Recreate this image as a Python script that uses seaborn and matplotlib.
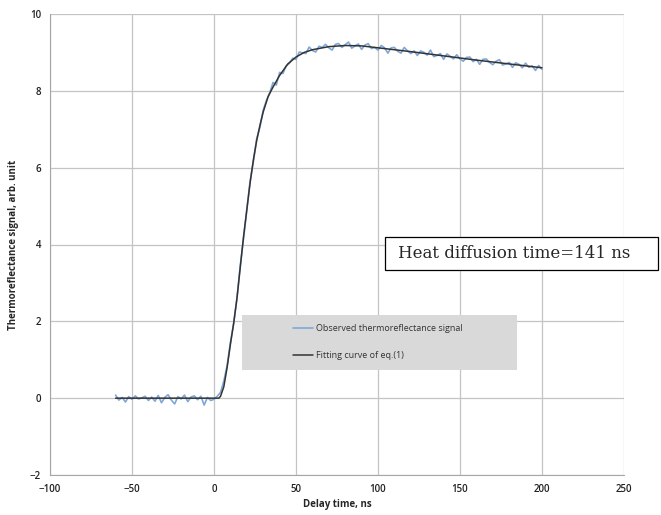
import numpy as np
import pandas as pd
import seaborn as sns
import matplotlib.pyplot as plt
from matplotlib.patches import Rectangle

# observed signal, sampled every 2 ns from -60 to 200 ns
obs_time = np.arange(-60, 202, 2)
obs_signal = [
    # -60 .. -2 ns
    0.08, -0.05, 0.02, -0.10, 0.04, -0.03, 0.06, -0.02, 0.01, 0.05,
    -0.06, 0.03, -0.08, 0.07, -0.12, 0.02, 0.09, -0.05, -0.15, 0.04,
    -0.02, 0.08, -0.09, 0.03, 0.06, -0.04, 0.05, -0.18, 0.02, -0.06,
    # 0 .. 46 ns
    -0.03, 0.05, 0.15, 0.45, 0.85, 1.45, 1.95, 2.60, 3.45, 4.15,
    4.90, 5.65, 6.15, 6.75, 7.05, 7.50, 7.75, 7.95, 8.22, 8.15,
    8.48, 8.45, 8.65, 8.72,
    # 48 .. 200 ns
    8.85, 8.82, 9.01, 8.99, 8.97, 9.14, 9.05, 9.01, 9.16, 9.13,
    9.21, 9.12, 9.06, 9.21, 9.23, 9.13, 9.20, 9.27, 9.11, 9.17,
    9.22, 9.08, 9.19, 9.23, 9.10, 9.13, 9.06, 9.18, 9.12, 8.98,
    9.12, 9.13, 9.03, 8.98, 9.13, 9.04, 8.97, 9.04, 8.92, 9.04,
    9.00, 8.93, 9.06, 8.89, 8.92, 8.97, 8.82, 8.96, 8.90, 8.83,
    8.94, 8.83, 8.77, 8.87, 8.88, 8.76, 8.82, 8.69, 8.82, 8.83,
    8.74, 8.68, 8.77, 8.81, 8.67, 8.70, 8.74, 8.61, 8.73, 8.69,
    8.60, 8.72, 8.61, 8.65, 8.53, 8.66, 8.56,
]

# fitted curve of eq.(1)
fit_time = [-60, 0, 3, 4, 6, 8, 10, 12, 14, 16, 18, 20, 22, 24, 26, 28, 30,
            33, 36, 40, 45, 50, 55, 60, 70, 80, 90, 100, 120, 140, 160, 180, 200]
fit_signal = [0, 0, 0, 0.05, 0.3, 0.8, 1.4, 1.95, 2.6, 3.4, 4.2, 4.9, 5.6, 6.2,
              6.7, 7.1, 7.45, 7.85, 8.1, 8.4, 8.7, 8.88, 9.0, 9.07, 9.15, 9.18,
              9.17, 9.12, 9.02, 8.91, 8.80, 8.70, 8.60]

obs = pd.DataFrame({'t': obs_time, 's': obs_signal})
fit = pd.DataFrame({'t': fit_time, 's': fit_signal})

sns.set_style('white')
plt.rcParams['font.family'] = ['Open Sans', 'DejaVu Sans']

fig = plt.figure(figsize=(6.61, 5.15), dpi=100)
ax = fig.add_axes([50/661, 40/515, 574/661, 461/515])

sns.lineplot(data=obs, x='t', y='s', ax=ax, color='#7fa8d8', lw=1.2,
             label='Observed thermoreflectance signal', zorder=3)
sns.lineplot(data=fit, x='t', y='s', ax=ax, color='#333333', lw=1.1,
             label='Fitting curve of eq.(1)', zorder=4)

ax.set_xlim(-100, 250)
ax.set_ylim(-2, 10)
ax.set_xticks(range(-100, 251, 50))
ax.set_yticks(range(-2, 11, 2))
ax.grid(True, color='#c4c4c4', lw=0.9)
ax.set_axisbelow(True)
for s in ['top', 'right']:
    ax.spines[s].set_visible(False)
for s in ['left', 'bottom']:
    ax.spines[s].set_color('#a6a6a6')
ax.tick_params(axis='both', length=3, color='#a6a6a6', labelsize=7, labelcolor='#222222')
for lab in ax.get_xticklabels() + ax.get_yticklabels():
    lab.set_fontweight('semibold')
ax.set_xlabel('Delay time, ns', fontsize=7, fontweight='bold', labelpad=3)
ax.set_ylabel('Thermoreflectance signal, arb. unit', fontsize=7, fontweight='bold', labelpad=8)

# grey legend panel
ax.add_patch(Rectangle((0.334, 0.228), 0.48, 0.119, transform=ax.transAxes,
                       facecolor='#d9d9d9', edgecolor='none', zorder=5))
leg = ax.legend(loc='upper left', bbox_to_anchor=(0.41, 0.345), frameon=False,
                fontsize=6.5, handlelength=2.2, handletextpad=0.3, labelspacing=2.0)
leg.set_zorder(6)
for t in leg.get_texts():
    t.set_color('#333333')

# annotation box
fig.patches.append(Rectangle((385/661, 245/515), 273/661, 33/515,
                             transform=fig.transFigure, facecolor='white',
                             edgecolor='black', lw=0.9, zorder=10))
fig.text(398/661, 261/515, 'Heat diffusion time=141 ns', family='DejaVu Serif',
         fontsize=12, va='center', ha='left', zorder=11)

fig.savefig('out.png', dpi=100)
